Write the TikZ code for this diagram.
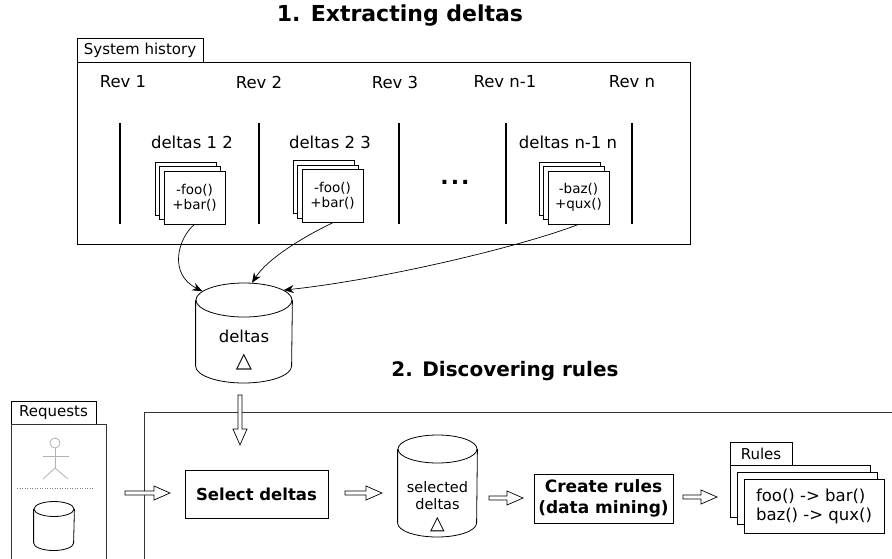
\documentclass[tikz,border=0pt]{standalone}
\usepackage{fontspec}
\setmainfont{DejaVu Sans}
\usetikzlibrary{calc,arrows.meta,shapes.geometric}
\newcommand{\fsz}[1]{\fontsize{#1}{#1}\selectfont}
\tikzset{
  frame/.style={draw, line width=0.8pt, inner sep=0pt},
  sheet/.style={draw, fill=white, line width=0.8pt, inner sep=0pt, minimum width=61pt, minimum height=53pt, align=center, font=\fontsize{13.5}{15}\selectfont},
  rsheet/.style={draw, fill=white, line width=0.8pt, inner sep=0pt, minimum width=140pt, minimum height=52pt},
  lbl/.style={font=\fsz{16.5}, inner sep=0pt},
  ttl/.style={font=\bfseries\fsz{21}, inner sep=0pt},
  tabtxt/.style={font=\fsz{15}},
  bar/.style={line width=1.8pt},
  curv/.style={line width=0.7pt, -{Stealth[length=10pt,width=8pt]}},
  fat/.style={draw, line width=0.7pt, fill=white, to path={
     ($(\tikztostart)!2pt!90:(\tikztotarget)$) --
     ($(\tikztotarget)!16pt!(\tikztostart)!2pt!-90:(\tikztostart)$) --
     ($(\tikztotarget)!16pt!(\tikztostart)!7pt!-90:(\tikztostart)$) --
     (\tikztotarget) --
     ($(\tikztotarget)!16pt!(\tikztostart)!7pt!90:(\tikztostart)$) --
     ($(\tikztotarget)!16pt!(\tikztostart)!2pt!90:(\tikztostart)$) --
     ($(\tikztostart)!2pt!-90:(\tikztotarget)$) -- cycle}},
  cyltop/.style={draw, ellipse, line width=0.8pt, inner sep=0pt, fill=white},
  actor/.style={draw=gray!60, line width=0.8pt}
}
\begin{document}
\begin{tikzpicture}[x=1pt,y=-1pt]
\useasboundingbox (0,0) rectangle (892,558);
\fill[white] (0,0) rectangle (892,558);

% ---------- Part 1 ----------
\node[ttl, font=\bfseries\fsz{22}] (title1) at (400,16) {1. Extracting deltas};
\node[frame, minimum width=126pt, minimum height=24pt, tabtxt] (histtab) at (140,50) {System history};
\node[frame, minimum width=613pt, minimum height=182pt] (hist) at (383.5,153) {};

\node[lbl] (rev1) at (123,82) {Rev 1};
\node[lbl] (rev2) at (259,82) {Rev 2};
\node[lbl] (rev3) at (395,82) {Rev 3};
\node[lbl] (revn1) at (505,82) {Rev n-1};
\node[lbl] (revn) at (632,82) {Rev n};

\coordinate (b1t) at (120,123); \coordinate (b1b) at (120,224);
\coordinate (b2t) at (259,123); \coordinate (b2b) at (259,224);
\coordinate (b3t) at (399,123); \coordinate (b3b) at (399,224);
\coordinate (b4t) at (506,123); \coordinate (b4b) at (506,224);
\coordinate (b5t) at (632,123); \coordinate (b5b) at (632,224);
\draw[bar] (b1t) -- (b1b);
\draw[bar] (b2t) -- (b2b);
\draw[bar] (b3t) -- (b3b);
\draw[bar] (b4t) -- (b4b);
\draw[bar] (b5t) -- (b5b);

\node[lbl] (d12) at (192,142) {deltas 1 2};
\node[lbl] (d23) at (330,142) {deltas 2 3};
\node[lbl] (dn) at (568,142) {deltas n-1 n};
\node[font=\bfseries\fsz{22}, inner sep=0pt] (dots) at (455,182) {.\hspace{2pt}.\hspace{2pt}.};

% document stacks
\node[sheet] (doc1c) at (185.5,188.5) {};
\node[sheet] (doc1b) at (190,193) {};
\node[sheet] (doc1) at (194.5,197.5) {-foo()\\+bar()};
\node[sheet] (doc2c) at (323.5,187) {};
\node[sheet] (doc2b) at (328,191.5) {};
\node[sheet] (doc2) at (332.5,196) {-foo()\\+bar()};
\node[sheet] (doc3c) at (569.5,188.5) {};
\node[sheet] (doc3b) at (574,193) {};
\node[sheet] (doc3) at (578.5,197.5) {-baz()\\+qux()};

% deltas database
\node[cyltop, minimum width=96pt, minimum height=34pt] (dbtop) at (244,300) {};
\draw[line width=0.8pt] (dbtop.west) -- ++(0,66) arc[start angle=180, end angle=0, x radius=48, y radius=17] -- (dbtop.east);
\node[lbl] (db) at (244,336) {deltas};
\node[font=\fsz{21}, inner sep=0pt] (dbtri) at (244,362) {△};

\draw[curv] (doc1.south) .. controls (178,238) and (168,274) .. (dbtop.168);
\draw[curv] (doc2.south) .. controls (305,236) and (268,258) .. (dbtop.65);
\draw[curv] (doc3.south) .. controls (520,247) and (380,280) .. (dbtop.14);

% ---------- Part 2 ----------
\node[ttl, font=\bfseries\fsz{20}] (title2) at (505,371) {2. Discovering rules};

\node[frame, minimum width=85pt, minimum height=23pt, tabtxt] (reqtab) at (53.5,412.5) {Requests};
\draw[line width=0.8pt, black!80] (11,424) -- (106,424) -- (106,570) (11,424) -- (11,570);
\draw[line width=0.8pt, black!80] (144,570) -- (144,412) -- (900,412);

% actor
\node[circle, actor, minimum size=10pt, inner sep=0pt] (head) at (55,443) {};
\coordinate (hip) at (55,468);
\coordinate (armL) at (43,456); \coordinate (armR) at (69,456);
\coordinate (legL) at (43,479); \coordinate (legR) at (68,479);
\draw[actor] (head.south) -- (hip);
\draw[actor] (armL) -- (armR);
\draw[actor] (legL) -- (hip) -- (legR);
\coordinate (dl1) at (17,488); \coordinate (dl2) at (94,488);
\draw[gray, line width=1pt, dash pattern=on 1pt off 1.5pt] (dl1) -- (dl2);

% small database
\node[cyltop, minimum width=40pt, minimum height=15pt] (rdbtop) at (54,509) {};
\draw[line width=0.8pt] (rdbtop.west) -- ++(0,34) arc[start angle=180, end angle=0, x radius=20, y radius=7.5] -- (rdbtop.east);

% select deltas
\node[frame, minimum width=143pt, minimum height=48pt, font=\bfseries\fsz{16.5}] (sel) at (256.5,494) {Select deltas};

% selected deltas db
\node[cyltop, minimum width=79pt, minimum height=28pt] (sdbtop) at (437.5,449) {};
\draw[line width=0.8pt] (sdbtop.west) -- ++(0,74) arc[start angle=180, end angle=0, x radius=39.5, y radius=14] -- (sdbtop.east);
\node[font=\fontsize{14.5}{17}\selectfont, align=center, inner sep=0pt] (sdb) at (437.5,496) {selected\\deltas};
\node[font=\fsz{19}, inner sep=0pt] (sdbtri) at (437.5,525) {△};

% create rules
\node[frame, minimum width=139pt, minimum height=49pt, align=center, font=\bfseries\fontsize{17}{21}\selectfont] (create) at (603.5,498.5) {Create rules\\(data mining)};

% rules
\node[frame, minimum width=62pt, minimum height=24pt, tabtxt] (rulestab) at (761,454) {Rules};
\node[rsheet] (rules3) at (800,491.5) {};
\node[rsheet] (rules2) at (807.5,498) {};
\node[rsheet, minimum height=54pt, align=left, font=\fontsize{16.5}{19}\selectfont] (rules) at (814,506) {foo() -> bar()\\baz() -> qux()};

% fat arrows
\coordinate (f1a) at (240,395); \coordinate (f1b) at (240,445);
\coordinate (f2a) at (125,493); \coordinate (f2b) at (170,493);
\coordinate (f3a) at (345,493); \coordinate (f3b) at (382,493);
\coordinate (f4a) at (489,498); \coordinate (f4b) at (523,498);
\coordinate (f5a) at (683,497); \coordinate (f5b) at (717,497);
\path[fat] (f1a) to (f1b);
\path[fat] (f2a) to (f2b);
\path[fat] (f3a) to (f3b);
\path[fat] (f4a) to (f4b);
\path[fat] (f5a) to (f5b);
\end{tikzpicture}
\end{document}
